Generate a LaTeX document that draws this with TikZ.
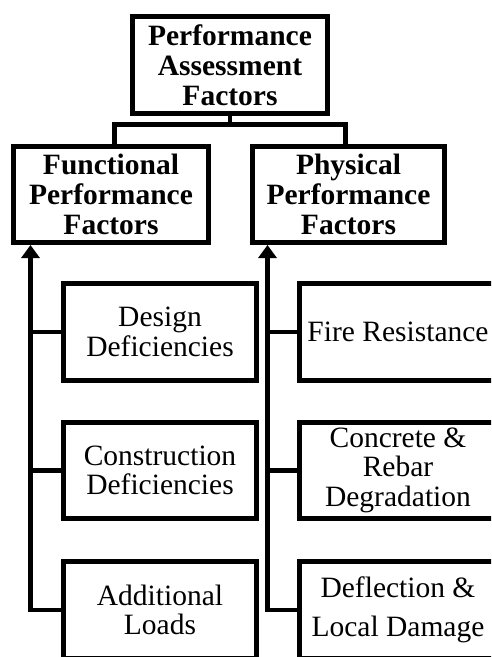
\documentclass[tikz,border=0pt]{standalone}
\usepackage{fontspec}
\setmainfont{Liberation Serif}
\usetikzlibrary{arrows.meta}
\begin{document}
\begin{tikzpicture}[x=1pt,y=-1pt,
  box/.style={draw=black,line width=5pt,rectangle,align=center,inner sep=0pt,
    font=\fontsize{29.5}{29.5}\selectfont},
  headbox/.style={box,font=\fontsize{29.5}{30}\selectfont\bfseries},
  link/.style={line width=4.5pt,line join=miter},
  uparrow/.style={link,-{Triangle[width=18pt,length=13pt]}}]
\useasboundingbox (0,0) rectangle (491,657);
\clip (0,0) rectangle (491,657);

% top level
\node[headbox,minimum width=195pt,minimum height=97pt] (top) at (230,65)
  {Performance\\Assessment\\Factors};

% second level
\node[headbox,minimum width=195pt,minimum height=96.5pt] (ff) at (111,194.25)
  {Functional\\Performance\\Factors};
\node[headbox,minimum width=192pt,minimum height=96.5pt] (pf) at (348.5,194.25)
  {Physical\\Performance\\Factors};

% functional factors
\node[box,minimum width=193pt,minimum height=97pt] (des) at (160,332)
  {Design\\Deficiencies};
\node[box,minimum width=193pt,minimum height=96.5pt] (con) at (160,470.25)
  {Construction\\Deficiencies};
\node[box,minimum width=193pt,minimum height=97pt] (add) at (160,610)
  {Additional\\Loads};

% physical factors (they run past the right edge)
\node[box,minimum width=197pt,minimum height=97pt] (fire) at (398,332)
  {Fire Resistance};
\node[box,minimum width=197pt,minimum height=96.5pt] (deg) at (398,470.25)
  {Concrete \&\\Rebar\\Degradation};
\node[box,minimum width=197pt,minimum height=97pt] (defl) at (398,610)
  {Deflection \&\\[10pt]Local Damage};

% tree from the top box
\coordinate (tj) at (230,124.5);
\draw[link] (top.south) -- (tj);
\draw[link] ([xshift=3.5pt]ff.north) |- (tj) -| ([xshift=-3pt]pf.north);

% spines feeding the second level
\coordinate (lspine) at ([xshift=19.5pt]ff.south west);
\coordinate (rspine) at ([xshift=17.5pt]pf.south west);
\draw[uparrow] (add.west) -| (lspine);
\draw[link] (des.west) -- (des.west -| lspine);
\draw[link] (con.west) -- (con.west -| lspine);
\draw[uparrow] (defl.west) -| (rspine);
\draw[link] (fire.west) -- (fire.west -| rspine);
\draw[link] (deg.west) -- (deg.west -| rspine);
\end{tikzpicture}
\end{document}
